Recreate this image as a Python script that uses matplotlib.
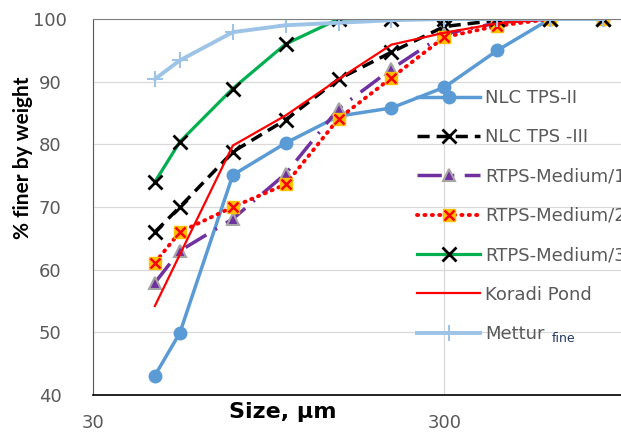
import matplotlib as mpl
mpl.use('Agg')
import matplotlib.pyplot as plt
from matplotlib.legend_handler import HandlerTuple
from matplotlib.ticker import FixedLocator, NullLocator

# sieve sizes (um)
sizes = [45, 53, 75, 106, 150, 212, 300, 425, 600, 850]

nlc_tps2 = [43.1, 49.9, 75.1, 80.2, 84.5, 85.8, 89.1, 95.0, 100, 100]
nlc_tps3 = [66.0, 70.0, 78.8, 83.9, 90.4, 94.7, 98.8, 99.8, 100, 100]
rtps_med1 = [57.9, 63.0, 68.1, 75.3, 85.7, 92.0, 97.6, 99.4, 100, 100]
rtps_med2 = [61.1, 66.0, 70.0, 73.6, 84.1, 90.6, 97.1, 98.9, 100, 100]
rtps_med3 = [74.0, 80.4, 88.9, 96.0, 100, 100, 100, 100, 100, 100]
koradi = [54.2, 62.4, 79.8, 84.6, 90.4, 95.9, 97.8, 99.3, 100, 100]
mettur = [90.4, 93.4, 97.9, 99.0, 99.4, 99.8, 100, 100, 100, 100]

labels = ['NLC TPS-II', 'NLC TPS -III', 'RTPS-Medium/1', 'RTPS-Medium/2',
          'RTPS-Medium/3', 'Koradi Pond', 'Mettur']

W, H = 621, 434
fig = plt.figure(figsize=(W / 100, H / 100), dpi=100)
ax = fig.add_axes([93 / W, (H - 395) / H, 535 / W, 376 / H])

h1, = ax.plot(sizes, nlc_tps2, color='#5B9BD5', lw=2.5, marker='o', ms=9,
              mfc='#5B9BD5', mec='#5B9BD5')
h2, = ax.plot(sizes, nlc_tps3, color='black', lw=2.5, ls=(0, (3.5, 2)),
              marker='x', ms=10, mew=2, mec='black')
h3, = ax.plot(sizes, rtps_med1, color='#7030A0', lw=2.5, ls=(0, (7, 3, 0.6, 3)),
              marker='^', ms=9, mfc='#7030A0', mec='#A5A5A5', mew=1.5)
h4a, = ax.plot(sizes, rtps_med2, color='#FF0000', lw=2.8, ls=(0, (0.3, 1.6)),
               dash_capstyle='round', marker='s', ms=9, mfc='#FFC000', mec='#FFC000')
h4b, = ax.plot(sizes, rtps_med2, ls='none', marker='x', ms=7, mew=1.8, mec='#FF0000')
h5, = ax.plot(sizes, rtps_med3, color='#00B050', lw=2.3, marker='x', ms=10,
              mew=2, mec='black')
h6, = ax.plot(sizes, koradi, color='#FF0000', lw=1.6)
h7, = ax.plot(sizes, mettur, color='#9DC3E6', lw=2.8, marker='+', ms=11,
              mew=1.5, mec='#9DC3E6')

ax.set_xscale('log')
ax.set_xlim(30, 1000)
ax.set_ylim(40, 100)
ax.xaxis.set_major_locator(FixedLocator([30, 300]))
ax.xaxis.set_minor_locator(NullLocator())
ax.set_xticklabels(['30', '300'])
ax.set_yticks(range(40, 101, 10))
ax.tick_params(length=0, labelsize=13, labelcolor='#595959')
ax.tick_params(axis='x', pad=14)
ax.tick_params(axis='y', pad=31)
for t in ax.get_yticklabels():
    t.set_ha('center')
ax.grid(True, color='#D9D9D9', lw=0.9)
ax.set_axisbelow(True)

ax.spines['left'].set_color('#595959')
ax.spines['bottom'].set_color('black')
ax.spines['bottom'].set_linewidth(1.2)
ax.spines['top'].set_color('#7F7F7F')
ax.spines['right'].set_visible(False)

ax.set_xlabel('Size, µm', fontsize=16, fontweight='bold', va='center')
ax.xaxis.set_label_coords((283 - 93) / 535, (395 - 412) / 376)
ax.set_ylabel('% finer by weight', fontsize=15, fontweight='bold',
              family=['Lato', 'DejaVu Sans'], va='center')
ax.yaxis.set_label_coords((23 - 93) / 535, (395 - 158) / 376)

# legend runs off the right edge, as in the original figure
leg = ax.legend([h1, h2, h3, (h4a, h4b), h5, h6, h7], labels,
                handler_map={tuple: HandlerTuple(ndivide=1, pad=0)},
                loc='upper left', bbox_to_anchor=((417 - 93) / 535, (395 - 89) / 376),
                frameon=False, fontsize=13, handlelength=3.5, handletextpad=0.28,
                labelspacing=1.18, borderpad=0, borderaxespad=0)
for t in leg.get_texts():
    t.set_color('#595959')

fig.text(552 / W, 1 - 338 / H, 'fine', fontsize=9, color='#1F3864',
         ha='left', va='center')

fig.savefig('out.png', dpi=100)
